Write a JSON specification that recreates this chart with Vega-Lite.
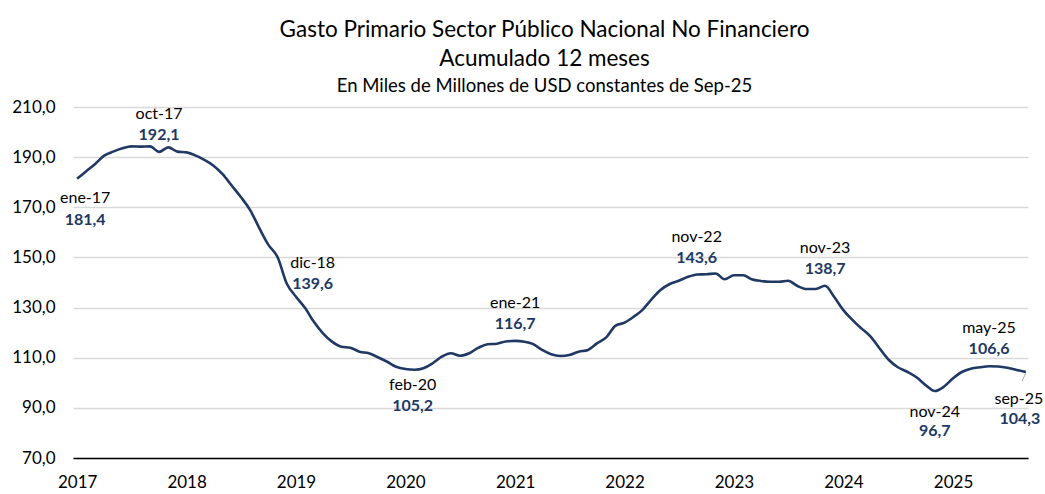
{
  "$schema": "https://vega.github.io/schema/vega-lite/v6.json",
  "width": 955,
  "height": 351,
  "autosize": {"type": "none"},
  "padding": {"left": 73, "top": 107, "right": 17, "bottom": 36},
  "background": "white",
  "title": {
    "text": ["Gasto Primario Sector Público Nacional No Financiero", "Acumulado 12 meses"],
    "subtitle": "En Miles de Millones de USD constantes de Sep-25",
    "anchor": "middle",
    "frame": "group",
    "font": "Lato",
    "fontSize": 22.5,
    "fontWeight": "normal",
    "color": "#000000",
    "lineHeight": 29,
    "subtitleFont": "Lato",
    "subtitleFontSize": 18.5,
    "subtitleColor": "#000000",
    "subtitlePadding": 6,
    "offset": 3,
    "dx": -6
  },
  "config": {
    "locale": {"number": {"decimal": ",", "thousands": ".", "grouping": [3], "currency": ["$", ""]}},
    "view": {"stroke": null},
    "font": "Lato"
  },
  "datasets": {
    "series": [
      {"d": "2017-01-01", "v": 181.4}, {"d": "2017-02-01", "v": 184.5}, {"d": "2017-03-01", "v": 187.2}, {"d": "2017-04-01", "v": 190.6},
      {"d": "2017-05-01", "v": 192.2}, {"d": "2017-06-01", "v": 193.5}, {"d": "2017-07-01", "v": 194.3}, {"d": "2017-08-01", "v": 194.2},
      {"d": "2017-09-01", "v": 194.3}, {"d": "2017-10-01", "v": 192.1}, {"d": "2017-11-01", "v": 193.9}, {"d": "2017-12-01", "v": 192.2},
      {"d": "2018-01-01", "v": 191.9}, {"d": "2018-02-01", "v": 190.6}, {"d": "2018-03-01", "v": 188.9}, {"d": "2018-04-01", "v": 186.6},
      {"d": "2018-05-01", "v": 183.2}, {"d": "2018-06-01", "v": 178.6}, {"d": "2018-07-01", "v": 174.1}, {"d": "2018-08-01", "v": 168.9},
      {"d": "2018-09-01", "v": 161.6}, {"d": "2018-10-01", "v": 155.0}, {"d": "2018-11-01", "v": 150.0}, {"d": "2018-12-01", "v": 139.6},
      {"d": "2019-01-01", "v": 134.3}, {"d": "2019-02-01", "v": 129.7}, {"d": "2019-03-01", "v": 124.4}, {"d": "2019-04-01", "v": 119.7},
      {"d": "2019-05-01", "v": 116.4}, {"d": "2019-06-01", "v": 114.4}, {"d": "2019-07-01", "v": 114.0}, {"d": "2019-08-01", "v": 112.4},
      {"d": "2019-09-01", "v": 111.8}, {"d": "2019-10-01", "v": 110.2}, {"d": "2019-11-01", "v": 108.4}, {"d": "2019-12-01", "v": 106.4},
      {"d": "2020-01-01", "v": 105.5}, {"d": "2020-02-01", "v": 105.2}, {"d": "2020-03-01", "v": 105.8}, {"d": "2020-04-01", "v": 107.8},
      {"d": "2020-05-01", "v": 110.4}, {"d": "2020-06-01", "v": 111.8}, {"d": "2020-07-01", "v": 110.8}, {"d": "2020-08-01", "v": 111.8},
      {"d": "2020-09-01", "v": 114.0}, {"d": "2020-10-01", "v": 115.4}, {"d": "2020-11-01", "v": 115.6}, {"d": "2020-12-01", "v": 116.5},
      {"d": "2021-01-01", "v": 116.7}, {"d": "2021-02-01", "v": 116.4}, {"d": "2021-03-01", "v": 115.5}, {"d": "2021-04-01", "v": 113.1},
      {"d": "2021-05-01", "v": 111.4}, {"d": "2021-06-01", "v": 110.7}, {"d": "2021-07-01", "v": 111.1}, {"d": "2021-08-01", "v": 112.4},
      {"d": "2021-09-01", "v": 113.1}, {"d": "2021-10-01", "v": 115.7}, {"d": "2021-11-01", "v": 118.1}, {"d": "2021-12-01", "v": 122.7},
      {"d": "2022-01-01", "v": 124.0}, {"d": "2022-02-01", "v": 126.4}, {"d": "2022-03-01", "v": 129.0}, {"d": "2022-04-01", "v": 133.3},
      {"d": "2022-05-01", "v": 137.0}, {"d": "2022-06-01", "v": 139.4}, {"d": "2022-07-01", "v": 140.7}, {"d": "2022-08-01", "v": 142.3},
      {"d": "2022-09-01", "v": 143.2}, {"d": "2022-10-01", "v": 143.3}, {"d": "2022-11-01", "v": 143.6}, {"d": "2022-12-01", "v": 141.3},
      {"d": "2023-01-01", "v": 142.9}, {"d": "2023-02-01", "v": 142.9}, {"d": "2023-03-01", "v": 141.3}, {"d": "2023-04-01", "v": 140.6},
      {"d": "2023-05-01", "v": 140.3}, {"d": "2023-06-01", "v": 140.3}, {"d": "2023-07-01", "v": 140.7}, {"d": "2023-08-01", "v": 138.6},
      {"d": "2023-09-01", "v": 137.4}, {"d": "2023-10-01", "v": 137.4}, {"d": "2023-11-01", "v": 138.7}, {"d": "2023-12-01", "v": 134.3},
      {"d": "2024-01-01", "v": 129.0}, {"d": "2024-02-01", "v": 125.0}, {"d": "2024-03-01", "v": 121.7}, {"d": "2024-04-01", "v": 118.4},
      {"d": "2024-05-01", "v": 113.7}, {"d": "2024-06-01", "v": 109.1}, {"d": "2024-07-01", "v": 106.2}, {"d": "2024-08-01", "v": 104.4},
      {"d": "2024-09-01", "v": 102.2}, {"d": "2024-10-01", "v": 99.1}, {"d": "2024-11-01", "v": 96.7}, {"d": "2024-12-01", "v": 98.4},
      {"d": "2025-01-01", "v": 101.8}, {"d": "2025-02-01", "v": 104.4}, {"d": "2025-03-01", "v": 105.6}, {"d": "2025-04-01", "v": 106.2},
      {"d": "2025-05-01", "v": 106.6}, {"d": "2025-06-01", "v": 106.5}, {"d": "2025-07-01", "v": 106.0}, {"d": "2025-08-01", "v": 105.1},
      {"d": "2025-09-01", "v": 104.3}
    ],
    "ann": [
      {"d": "2017-01-01", "v": 181.4, "lab": "ene-17", "g": "e17"},
      {"d": "2017-10-01", "v": 192.1, "lab": "oct-17", "g": "up"},
      {"d": "2018-12-01", "v": 139.6, "lab": "dic-18", "g": "d18"},
      {"d": "2020-02-01", "v": 105.2, "lab": "feb-20", "g": "f20"},
      {"d": "2021-01-01", "v": 116.7, "lab": "ene-21", "g": "up"},
      {"d": "2022-11-01", "v": 143.6, "lab": "nov-22", "g": "n22"},
      {"d": "2023-11-01", "v": 138.7, "lab": "nov-23", "g": "up"},
      {"d": "2024-11-01", "v": 96.7, "lab": "nov-24", "g": "n24"},
      {"d": "2025-05-01", "v": 106.6, "lab": "may-25", "g": "up"},
      {"d": "2025-09-01", "v": 104.3, "lab": "sep-25", "g": "s25"}
    ],
    "leader": [
      {"d": "2025-09-01", "v": 103.9, "d2": "2025-08-19", "v2": 100.7}
    ]
  },
  "encoding": {
    "x": {
      "field": "d",
      "type": "temporal",
      "scale": {"type": "utc", "domain": [{"year": 2016, "month": 12, "date": 18, "utc": true}, {"year": 2025, "month": 9, "date": 8, "utc": true}]},
      "axis": {
        "title": null,
        "format": "%Y",
        "tickCount": {"interval": "year", "step": 1},
        "ticks": false,
        "grid": false,
        "domainColor": "#000000",
        "domainWidth": 1.5,
        "labelFont": "Lato",
        "labelFontSize": 17,
        "labelColor": "#000000",
        "labelPadding": 16,
        "labelFlush": false,
        "labelOverlap": false,
        "zindex": 1
      }
    },
    "y": {
      "field": "v",
      "type": "quantitative",
      "scale": {"domain": [70, 210], "nice": false, "zero": false},
      "axis": {
        "title": null,
        "values": [70, 90, 110, 130, 150, 170, 190, 210],
        "format": ".1f",
        "domain": false,
        "ticks": false,
        "gridColor": "#d9d9d9",
        "gridWidth": 1.5,
        "labelFont": "Lato",
        "labelFontSize": 17,
        "labelColor": "#000000",
        "labelPadding": 18,
        "zindex": 0
      }
    }
  },
  "layer": [
    {
      "data": {"name": "series"},
      "mark": {"type": "line", "color": "#203864", "strokeWidth": 2.6, "interpolate": "monotone"}
    },
    {
      "data": {"name": "leader"},
      "mark": {"type": "rule", "color": "#a6a6a6", "strokeWidth": 1},
      "encoding": {"x2": {"field": "d2"}, "y2": {"field": "v2"}}
    },
    {
      "data": {"name": "ann"}, "transform": [{"filter": "datum.g == 'up'"}],
      "mark": {"type": "text", "font": "Lato", "fontSize": 16, "color": "#000000", "baseline": "middle", "align": "center", "dx": 0, "dy": -38},
      "encoding": {"text": {"field": "lab"}}
    },
    {
      "data": {"name": "ann"}, "transform": [{"filter": "datum.g == 'up'"}],
      "mark": {"type": "text", "font": "Lato", "fontSize": 16, "fontWeight": "bold", "color": "#203864", "baseline": "middle", "align": "center", "dx": 0, "dy": -17},
      "encoding": {"text": {"field": "v", "type": "quantitative", "format": ".1f"}}
    },
    {
      "data": {"name": "ann"}, "transform": [{"filter": "datum.g == 'n22'"}],
      "mark": {"type": "text", "font": "Lato", "fontSize": 16, "color": "#000000", "baseline": "middle", "align": "center", "dx": -19, "dy": -36},
      "encoding": {"text": {"field": "lab"}}
    },
    {
      "data": {"name": "ann"}, "transform": [{"filter": "datum.g == 'n22'"}],
      "mark": {"type": "text", "font": "Lato", "fontSize": 16, "fontWeight": "bold", "color": "#203864", "baseline": "middle", "align": "center", "dx": -19, "dy": -15},
      "encoding": {"text": {"field": "v", "type": "quantitative", "format": ".1f"}}
    },
    {
      "data": {"name": "ann"}, "transform": [{"filter": "datum.g == 'd18'"}],
      "mark": {"type": "text", "font": "Lato", "fontSize": 16, "color": "#000000", "baseline": "middle", "align": "center", "dx": 26, "dy": -21},
      "encoding": {"text": {"field": "lab"}}
    },
    {
      "data": {"name": "ann"}, "transform": [{"filter": "datum.g == 'd18'"}],
      "mark": {"type": "text", "font": "Lato", "fontSize": 16, "fontWeight": "bold", "color": "#203864", "baseline": "middle", "align": "center", "dx": 26, "dy": 0},
      "encoding": {"text": {"field": "v", "type": "quantitative", "format": ".1f"}}
    },
    {
      "data": {"name": "ann"}, "transform": [{"filter": "datum.g == 'f20'"}],
      "mark": {"type": "text", "font": "Lato", "fontSize": 16, "color": "#000000", "baseline": "middle", "align": "center", "dx": -2, "dy": 15},
      "encoding": {"text": {"field": "lab"}}
    },
    {
      "data": {"name": "ann"}, "transform": [{"filter": "datum.g == 'f20'"}],
      "mark": {"type": "text", "font": "Lato", "fontSize": 16, "fontWeight": "bold", "color": "#203864", "baseline": "middle", "align": "center", "dx": -2, "dy": 36},
      "encoding": {"text": {"field": "v", "type": "quantitative", "format": ".1f"}}
    },
    {
      "data": {"name": "ann"}, "transform": [{"filter": "datum.g == 'n24'"}],
      "mark": {"type": "text", "font": "Lato", "fontSize": 16, "color": "#000000", "baseline": "middle", "align": "center", "dx": 0, "dy": 21},
      "encoding": {"text": {"field": "lab"}}
    },
    {
      "data": {"name": "ann"}, "transform": [{"filter": "datum.g == 'n24'"}],
      "mark": {"type": "text", "font": "Lato", "fontSize": 16, "fontWeight": "bold", "color": "#203864", "baseline": "middle", "align": "center", "dx": 0, "dy": 40},
      "encoding": {"text": {"field": "v", "type": "quantitative", "format": ".1f"}}
    },
    {
      "data": {"name": "ann"}, "transform": [{"filter": "datum.g == 's25'"}],
      "mark": {"type": "text", "font": "Lato", "fontSize": 16, "color": "#000000", "baseline": "middle", "align": "center", "dx": -7, "dy": 27},
      "encoding": {"text": {"field": "lab"}}
    },
    {
      "data": {"name": "ann"}, "transform": [{"filter": "datum.g == 's25'"}],
      "mark": {"type": "text", "font": "Lato", "fontSize": 16, "fontWeight": "bold", "color": "#203864", "baseline": "middle", "align": "center", "dx": -6, "dy": 47},
      "encoding": {"text": {"field": "v", "type": "quantitative", "format": ".1f"}}
    },
    {
      "data": {"name": "ann"}, "transform": [{"filter": "datum.g == 'e17'"}],
      "mark": {"type": "text", "font": "Lato", "fontSize": 16, "color": "#000000", "baseline": "middle", "align": "center", "dx": 8, "dy": 19},
      "encoding": {"text": {"field": "lab"}}
    },
    {
      "data": {"name": "ann"}, "transform": [{"filter": "datum.g == 'e17'"}],
      "mark": {"type": "text", "font": "Lato", "fontSize": 16, "fontWeight": "bold", "color": "#203864", "baseline": "middle", "align": "center", "dx": 8, "dy": 41},
      "encoding": {"text": {"field": "v", "type": "quantitative", "format": ".1f"}}
    }
  ]
}
